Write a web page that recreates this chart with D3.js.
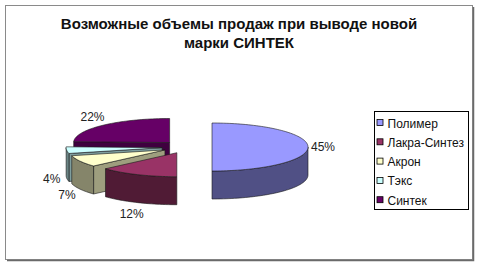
<!DOCTYPE html>
<html>
<head>
<meta charset="utf-8">
<script src="https://cdn.jsdelivr.net/npm/d3@7"></script>
<style>
  body { margin: 0; background: #fff; }
  text { font-family: "Liberation Sans", Arial, sans-serif; }
</style>
</head>
<body>
<div id="chart"></div>
<script>
// DATA
const categories = ["Полимер", "Лакра-Синтез", "Акрон", "Тэкс", "Синтек"];
const values = [45, 12, 7, 4, 22];
const valueLabels = values.map(v => v + "%");
const titleLines = ["Возможные объемы продаж при выводе новой", "марки СИНТЕК"];

// colors (excel palette)
const topColors = ["#9999ff", "#993366", "#ffffcc", "#ccffff", "#660066"];

// chart variables
const width = 478;
const height = 265;
const cx = 187, cy = 147;   // pie center before exploding
const rx = 96, ry = 24;     // ellipse radii of the top face
const depth = 28;           // thickness of the pie
const explode = 25;

const svg = d3.select("#chart")
    .append("svg")
        .attr("width", width)
        .attr("height", height);

// outer frame + shadow
svg.append("rect")
    .attr("x", 5.5).attr("y", 5.5)
    .attr("width", 467).attr("height", 254)
    .attr("fill", "#fff")
    .attr("stroke", "#8a8a8a");
svg.append("path")
    .attr("d", "M473.5,7 V260.5 H7")
    .attr("fill", "none")
    .attr("stroke", "#6a6a6a")
    .attr("stroke-width", 1.5);

// title
svg.append("text")
    .attr("x", 239)
    .attr("y", 29)
    .attr("text-anchor", "middle")
    .attr("font-size", 15)
    .attr("font-weight", "bold")
    .attr("fill", "#111")
    .selectAll("tspan")
    .data(titleLines)
    .enter()
    .append("tspan")
        .attr("x", 239)
        .attr("dy", (d, i) => i ? 19 : 0)
        .text(d => d);

// pie layout
const pie = d3.pie().sort(null).value(d => d.value);
const arcs = pie(categories.map((c, i) => ({ name: c, value: values[i], i: i })));

function shade(c, k) {
    const rgb = d3.rgb(c);
    return d3.rgb(rgb.r * k, rgb.g * k, rgb.b * k).formatHex();
}

arcs.forEach(a => {
    const mid = (a.startAngle + a.endAngle) / 2;
    a.mid = mid;
    a.ox = cx + explode * Math.sin(mid);
    a.oy = cy - explode * Math.cos(mid) * ry / rx;
});

function rim(a, ang, dz) {
    return [a.ox + rx * Math.sin(ang), a.oy - ry * Math.cos(ang) + (dz || 0)];
}

function arcPoints(a, a0, a1, dz) {
    const n = Math.max(2, Math.ceil((a1 - a0) / 0.03));
    return d3.range(n + 1).map(k => rim(a, a0 + (a1 - a0) * k / n, dz));
}

const line = d3.line();

// walls: cut faces and outer rim walls, sorted back to front
let walls = [];
arcs.forEach(a => {
    const base = topColors[a.data.i];
    // start cut face
    if (Math.sin(a.startAngle) < -1e-6) {
        const p = rim(a, a.startAngle);
        walls.push({
            d: line([[a.ox, a.oy], p, [p[0], p[1] + depth], [a.ox, a.oy + depth]]) + "Z",
            fill: shade(base, 0.62),
            key: (a.oy + p[1]) / 2
        });
    }
    // end cut face
    if (Math.sin(a.endAngle) > 1e-6) {
        const p = rim(a, a.endAngle);
        walls.push({
            d: line([[a.ox, a.oy], p, [p[0], p[1] + depth], [a.ox, a.oy + depth]]) + "Z",
            fill: shade(base, 0.62),
            key: (a.oy + p[1]) / 2
        });
    }
    // outer wall (front half only)
    const b0 = Math.max(a.startAngle, Math.PI / 2);
    const b1 = Math.min(a.endAngle, Math.PI * 1.5);
    if (b1 > b0) {
        const pts = arcPoints(a, b0, b1, 0).concat(arcPoints(a, b0, b1, depth).reverse());
        walls.push({
            d: line(pts) + "Z",
            fill: shade(base, 0.52),
            key: rim(a, (b0 + b1) / 2)[1]
        });
    }
});
walls.sort((p, q) => p.key - q.key);

svg.append("g")
        .attr("class", "g-walls")
    .selectAll("path")
    .data(walls)
    .enter()
    .append("path")
        .attr("d", d => d.d)
        .attr("fill", d => d.fill)
        .attr("stroke", "#1a1a1a")
        .attr("stroke-width", 0.6)
        .attr("stroke-linejoin", "round");

// top faces
svg.append("g")
        .attr("class", "g-tops")
    .selectAll("path")
    .data(arcs)
    .enter()
    .append("path")
        .attr("d", a => line([[a.ox, a.oy]].concat(arcPoints(a, a.startAngle, a.endAngle, 0))) + "Z")
        .attr("fill", a => topColors[a.data.i])
        .attr("stroke", "#1a1a1a")
        .attr("stroke-width", 0.6)
        .attr("stroke-linejoin", "round");

// value labels: outside the rim, dropped to the side for the front half
const lrx = rx + 15, lry = ry + 12;
svg.append("g")
        .attr("class", "g-labels")
    .selectAll("text")
    .data(arcs)
    .enter()
    .append("text")
        .attr("x", a => a.ox + lrx * Math.sin(a.mid))
        .attr("y", a => a.oy - lry * Math.cos(a.mid) + (Math.cos(a.mid) < 0 ? depth : 0))
        .attr("text-anchor", "middle")
        .attr("dominant-baseline", "central")
        .attr("font-size", 12)
        .attr("fill", "#222")
        .text(a => valueLabels[a.data.i]);

// legend
const lgX = 374.5, lgY = 111.5, lgStep = 19.3;
const legend = svg.append("g").attr("class", "g-legend");
legend.append("rect")
    .attr("x", lgX).attr("y", lgY)
    .attr("width", 94).attr("height", 98)
    .attr("fill", "#fff")
    .attr("stroke", "#000");

const items = legend.selectAll("g.item")
    .data(categories)
    .enter()
    .append("g")
        .attr("class", "item")
        .attr("transform", (d, i) => `translate(${lgX + 2},${lgY + 11.5 + i * lgStep})`);

items.append("rect")
    .attr("x", 0.5).attr("y", -3.5)
    .attr("width", 6).attr("height", 6)
    .attr("fill", (d, i) => topColors[i])
    .attr("stroke", "#000")
    .attr("stroke-width", 0.8);

items.append("text")
    .attr("x", 11)
    .attr("y", 0.5)
    .attr("dominant-baseline", "central")
    .attr("font-size", 12)
    .attr("fill", "#111")
    .text(d => d);
</script>
</body>
</html>
